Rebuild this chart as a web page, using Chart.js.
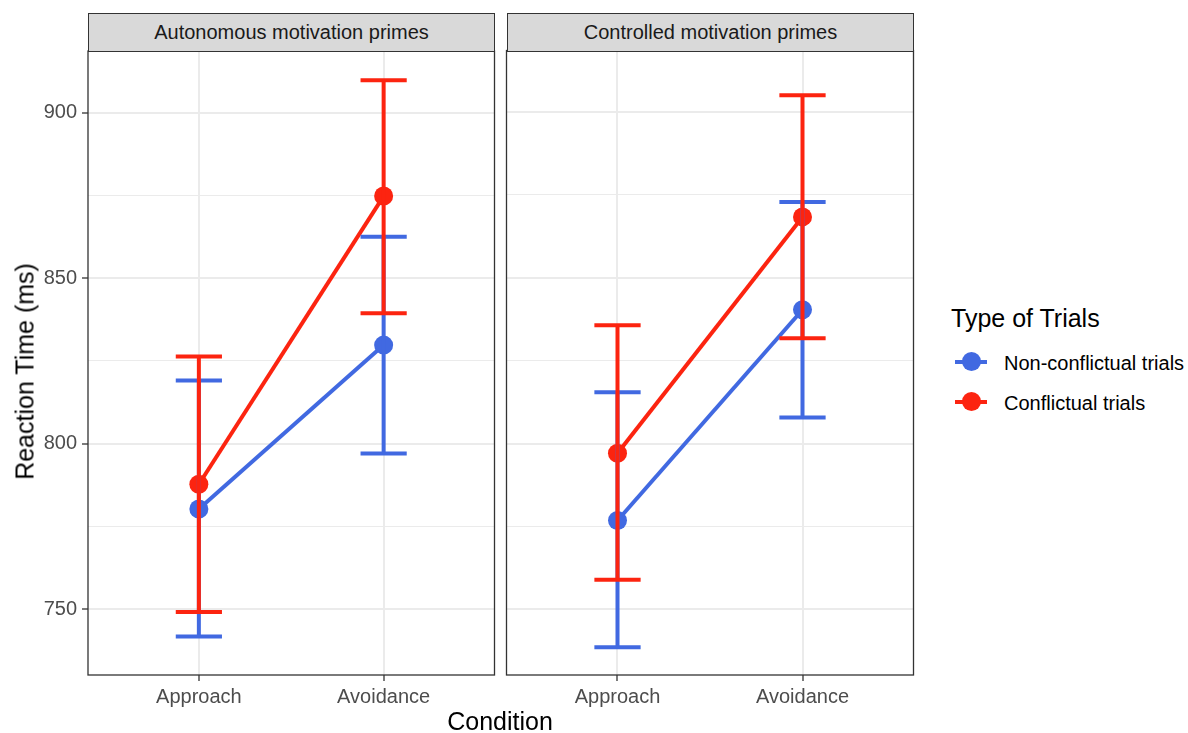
<!DOCTYPE html>
<html><head><meta charset="utf-8">
<script src="https://cdn.jsdelivr.net/npm/chart.js@4.4.1/dist/chart.umd.min.js"></script>
<style>
html,body{margin:0;padding:0;background:#fff;}
body{width:1188px;height:733px;position:relative;overflow:hidden;font-family:"Liberation Sans",Arial,Helvetica,sans-serif;}
canvas{position:absolute;}
.strip{position:absolute;top:13px;height:39px;box-sizing:border-box;background:#D9D9D9;border:1.3px solid #333;color:#1A1A1A;font-size:20px;line-height:36px;text-align:center;}
.txt{position:absolute;white-space:nowrap;}
.key{position:absolute;}
.key .ln{position:absolute;left:0;top:-2px;width:32px;height:4px;}
.key .dt{position:absolute;left:6.5px;top:-9.5px;width:19px;height:19px;border-radius:50%;}
</style>
</head><body>
<canvas id="c1" width="504" height="686" style="left:0;top:34px;width:504px;height:686px"></canvas>
<canvas id="c2" width="426" height="679" style="left:497px;top:41px;width:426px;height:679px"></canvas>
<div class="strip" id="s1" style="left:88px;width:407px"></div>
<div class="strip" id="s2" style="left:507px;width:407px"></div>
<div class="txt" id="ytitle" style="left:-125.5px;top:358.5px;width:300px;height:25px;line-height:25px;font-size:25px;text-align:center;transform:rotate(-90deg);color:#000"></div>
<div class="txt" id="xtitle" style="left:300px;top:709px;width:400px;line-height:25px;font-size:25px;text-align:center;color:#000"></div>
<div class="txt" id="ltitle" style="left:951px;top:305.5px;line-height:25px;font-size:25px;color:#000"></div>
<div class="key" id="k0" style="left:955px;top:361.7px"><div class="ln"></div><div class="dt"></div></div>
<div class="key" id="k1" style="left:955px;top:401.7px"><div class="ln"></div><div class="dt"></div></div>
<div class="txt" id="l0" style="left:1004px;top:353px;line-height:20px;font-size:20px;color:#000"></div>
<div class="txt" id="l1" style="left:1004px;top:392.5px;line-height:20px;font-size:20px;color:#000"></div>
<script>
// ---- data ----
const categories = ['Approach', 'Avoidance'];
const panelTitles = ['Autonomous motivation primes', 'Controlled motivation primes'];
const seriesNames = ['Non-conflictual trials', 'Conflictual trials'];
const seriesColors = ['#4169E1', '#FC2410'];

const autNonMean = [780.3, 829.8];
const autNonLow  = [741.8, 797.1];
const autNonHigh = [819.1, 862.5];
const autConMean = [787.8, 874.8];
const autConLow  = [749.2, 839.4];
const autConHigh = [826.4, 909.8];

const ctlNonMean = [776.8, 840.4];
const ctlNonLow  = [738.6, 807.9];
const ctlNonHigh = [815.5, 872.9];
const ctlConMean = [797.1, 868.4];
const ctlConLow  = [758.9, 831.8];
const ctlConHigh = [835.7, 905.1];

const yMajorTicks = [750, 800, 850, 900];
const yMinorTicks = [775, 825, 875];
const yMin = 730.2, yMax = 918.6;

const yTitle = 'Reaction Time (ms)';
const xTitle = 'Condition';
const legendTitle = 'Type of Trials';

// ---- text ----
document.getElementById('s1').textContent = panelTitles[0];
document.getElementById('s2').textContent = panelTitles[1];
document.getElementById('ytitle').textContent = yTitle;
document.getElementById('xtitle').textContent = xTitle;
document.getElementById('ltitle').textContent = legendTitle;
for (let i = 0; i < 2; i++) {
  document.getElementById('l' + i).textContent = seriesNames[i];
  const k = document.getElementById('k' + i);
  k.querySelector('.ln').style.background = seriesColors[i];
  k.querySelector('.dt').style.background = seriesColors[i];
}

const FAMILY = '"Liberation Sans", Arial, Helvetica, sans-serif';
const allY = yMajorTicks.concat(yMinorTicks).sort((a, b) => a - b);
const isMajor = v => yMajorTicks.includes(v);

const errorBarPlugin = {
  id: 'errbars',
  afterDatasetsDraw(chart) {
    const ctx = chart.ctx, xs = chart.scales.x, ys = chart.scales.y;
    const bars = chart.options.plugins.errbars.bars;
    ctx.save();
    bars.forEach(b => {
      ctx.strokeStyle = b.color;
      ctx.lineWidth = 4;
      ctx.lineCap = 'butt';
      b.mean.forEach((m, i) => {
        const x = xs.getPixelForValue(i + 1);
        const xl = xs.getPixelForValue(i + 1 - 0.125);
        const xr = xs.getPixelForValue(i + 1 + 0.125);
        const yl = ys.getPixelForValue(b.low[i]);
        const yh = ys.getPixelForValue(b.high[i]);
        ctx.beginPath();
        ctx.moveTo(x, yl); ctx.lineTo(x, yh);
        ctx.moveTo(xl, yl); ctx.lineTo(xr, yl);
        ctx.moveTo(xl, yh); ctx.lineTo(xr, yh);
        ctx.stroke();
      });
    });
    ctx.restore();
  }
};
const borderPlugin = {
  id: 'panelBorder',
  afterDraw(chart) {
    const a = chart.chartArea, ctx = chart.ctx;
    ctx.save();
    ctx.strokeStyle = '#333333';
    ctx.lineWidth = 1.3;
    ctx.strokeRect(a.left, a.top, a.right - a.left, a.bottom - a.top);
    ctx.restore();
  }
};

function makePanel(id, nonMean, nonLow, nonHigh, conMean, conLow, conHigh, showY) {
  const ds = (name, mean, color, order) => ({
    label: name,
    data: mean.map((v, i) => ({ x: i + 1, y: v })),
    borderColor: color, backgroundColor: color,
    pointBackgroundColor: color, pointBorderWidth: 0,
    pointRadius: 9.5, borderWidth: 4, tension: 0, order: order
  });
  return new Chart(document.getElementById(id), {
    type: 'line',
    data: { datasets: [ds(seriesNames[0], nonMean, seriesColors[0], 1), ds(seriesNames[1], conMean, seriesColors[1], 0)] },
    options: {
      responsive: false, animation: false, devicePixelRatio: 1,
      layout: { padding: { top: 6, right: 6, left: showY ? 0 : 6, bottom: 0 } },
      plugins: {
        legend: { display: false }, tooltip: { enabled: false },
        errbars: { bars: [
          { mean: nonMean, low: nonLow, high: nonHigh, color: seriesColors[0] },
          { mean: conMean, low: conLow, high: conHigh, color: seriesColors[1] }
        ] }
      },
      scales: {
        x: {
          type: 'linear', min: 0.4, max: 2.6,
          afterBuildTicks: s => { s.ticks = categories.map((c, i) => ({ value: i + 1 })); },
          afterFit: s => { s.height = 45; },
          ticks: { callback: v => categories[v - 1], color: '#4D4D4D', font: { size: 20, family: FAMILY }, padding: 4, maxRotation: 0, autoSkip: false },
          grid: { color: '#EBEBEB', lineWidth: 2, tickLength: 6, tickColor: '#333333', tickWidth: 1.3 },
          border: { display: false }
        },
        y: {
          type: 'linear', min: yMin, max: yMax,
          afterBuildTicks: s => { s.ticks = allY.map(v => ({ value: v })); },
          afterFit: s => { s.width = showY ? 88 : 0; },
          ticks: { display: showY, callback: v => isMajor(v) ? String(v) : '', color: '#4D4D4D', font: { size: 20, family: FAMILY }, padding: 5, autoSkip: false },
          grid: {
            color: '#EBEBEB',
            lineWidth: c => (c.tick && isMajor(c.tick.value)) ? 2 : 1.1,
            drawTicks: showY, tickLength: 6,
            tickColor: c => (c.tick && isMajor(c.tick.value)) ? '#333333' : 'rgba(0,0,0,0)',
            tickWidth: 1.3
          },
          border: { display: false }
        }
      }
    },
    plugins: [errorBarPlugin, borderPlugin]
  });
}

makePanel('c1', autNonMean, autNonLow, autNonHigh, autConMean, autConLow, autConHigh, true);
makePanel('c2', ctlNonMean, ctlNonLow, ctlNonHigh, ctlConMean, ctlConLow, ctlConHigh, false);
</script>
</body></html>
